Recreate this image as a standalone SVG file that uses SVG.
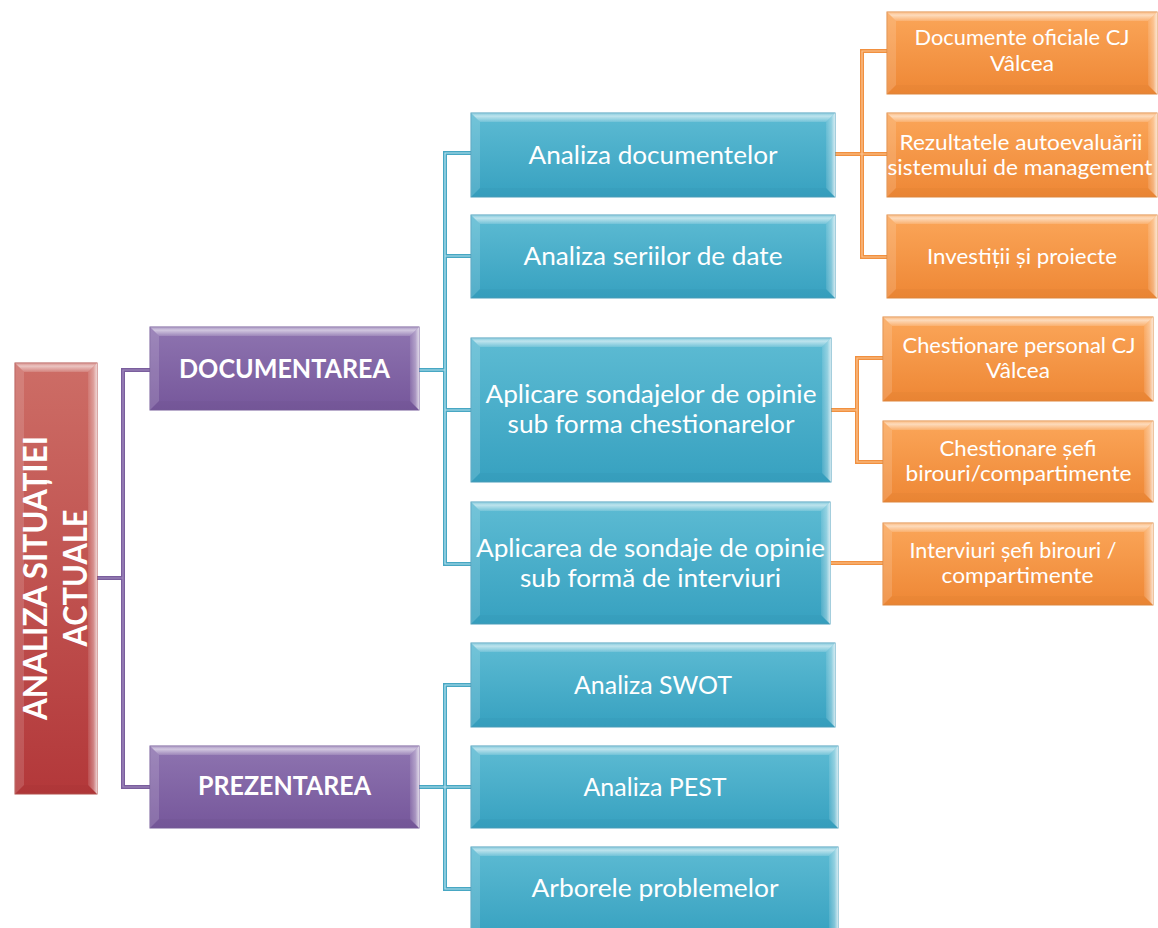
<svg xmlns="http://www.w3.org/2000/svg" width="1158" height="928" viewBox="0 0 1158 928">
<defs>
<linearGradient id="gRed" x1="0" y1="0" x2="0" y2="1"><stop offset="0" stop-color="#cd6d66"/><stop offset="1" stop-color="#b3383a"/></linearGradient>
<linearGradient id="gPurple" x1="0" y1="0" x2="0" y2="1"><stop offset="0" stop-color="#8e74b0"/><stop offset="1" stop-color="#76579b"/></linearGradient>
<linearGradient id="gTeal" x1="0" y1="0" x2="0" y2="1"><stop offset="0" stop-color="#5dbbd3"/><stop offset="1" stop-color="#37a1c0"/></linearGradient>
<linearGradient id="gOrange" x1="0" y1="0" x2="0" y2="1"><stop offset="0" stop-color="#fba659"/><stop offset="1" stop-color="#ee8735"/></linearGradient>
<linearGradient id="gTop" x1="0" y1="0" x2="0" y2="1"><stop offset="0" stop-color="#fff" stop-opacity="0.25"/><stop offset="0.35" stop-color="#fff" stop-opacity="0.6"/><stop offset="1" stop-color="#fff" stop-opacity="0.15"/></linearGradient>
<linearGradient id="gRight" x1="0" y1="0" x2="1" y2="0"><stop offset="0" stop-color="#fff" stop-opacity="0.1"/><stop offset="0.6" stop-color="#fff" stop-opacity="0.35"/><stop offset="1" stop-color="#fff" stop-opacity="0.75"/></linearGradient>
</defs>
<style>
.box{stroke-width:1}
.red .box{fill:url(#gRed);stroke:#b2504c}
.pur .box{fill:url(#gPurple);stroke:#765c99}
.teal .box{fill:url(#gTeal);stroke:#4a9ebb}
.org .box{fill:url(#gOrange);stroke:#e0873e}
.bt{fill:url(#gTop)}
.bl{fill:#fff;fill-opacity:0.14}
.br{fill:url(#gRight)}
.bb{fill:#000;fill-opacity:0.02}
text{font-family:Lato,"Open Sans","Liberation Sans",sans-serif;fill:#fff;text-anchor:middle}
.t28{font-size:25.2px}
.t24{font-size:21.6px}
.b29{font-size:26px;font-weight:700}
.b36{font-size:32.4px;font-weight:700}
.c{fill:none;stroke-linejoin:miter}
.cp{stroke:#7a5e9d;stroke-width:4}
.cpi{stroke:#a28bc0;stroke-width:1.2}
.ct{stroke:#47a7c3;stroke-width:4}
.cti{stroke:#b5e2ee;stroke-width:1.2}
.co{stroke:#f1903f;stroke-width:4}
.coi{stroke:#fbc594;stroke-width:1.2}
</style>

<g id="connectors">
<path class="c cp" d="M150,370H123V787H150M97,578H123"/>
<path class="c cpi" d="M150,370H123V787H150M97,578H123"/>
<path class="c ct" d="M471,153H445V564H471M419,370H445M445,256H471M445,410H471"/>
<path class="c cti" d="M471,153H445V564H471M419,370H445M445,256H471M445,410H471"/>
<path class="c ct" d="M471,685H445V889H471M419,787H471"/>
<path class="c cti" d="M471,685H445V889H471M419,787H471"/>
<path class="c co" d="M887,51H862V257H887M835,154H887"/>
<path class="c coi" d="M887,51H862V257H887M835,154H887"/>
<path class="c co" d="M883,358H857V462H883M831,410H857"/>
<path class="c coi" d="M883,358H857V462H883M831,410H857"/>
<path class="c co" d="M831,563H883"/>
<path class="c coi" d="M831,563H883"/>
</g>

<g id="root" class="red">
<rect class="box" x="15" y="363" width="82" height="431"/>
<polygon class="bt" points="15,363 97,363 88,372 24,372"/>
<polygon class="bl" points="15,363 24,372 24,785 15,794"/>
<polygon class="br" points="97,363 97,794 88,785 88,372"/>
<polygon class="bb" points="15,794 24,785 88,785 97,794"/>
<text class="b36" transform="translate(47,578) rotate(-90)" textLength="284" lengthAdjust="spacingAndGlyphs">ANALIZA SITUAȚIEI</text>
<text class="b36" transform="translate(87,578) rotate(-90)" textLength="137" lengthAdjust="spacingAndGlyphs">ACTUALE</text>
</g>

<g id="documentarea" class="pur">
<rect class="box" x="150" y="327" width="269" height="83"/>
<polygon class="bt" points="150,327 419,327 410,336 159,336"/>
<polygon class="bl" points="150,327 159,336 159,401 150,410"/>
<polygon class="br" points="419,327 419,410 410,401 410,336"/>
<polygon class="bb" points="150,410 159,401 410,401 419,410"/>
<text class="b29" x="284.5" y="377.5" textLength="211" lengthAdjust="spacingAndGlyphs">DOCUMENTAREA</text>
</g>

<g id="prezentarea" class="pur">
<rect class="box" x="150" y="746" width="269" height="82"/>
<polygon class="bt" points="150,746 419,746 410,755 159,755"/>
<polygon class="bl" points="150,746 159,755 159,819 150,828"/>
<polygon class="br" points="419,746 419,828 410,819 410,755"/>
<polygon class="bb" points="150,828 159,819 410,819 419,828"/>
<text class="b29" x="284.5" y="795" textLength="173" lengthAdjust="spacingAndGlyphs">PREZENTAREA</text>
</g>

<g id="analiza-documentelor" class="teal">
<rect class="box" x="471" y="113" width="364" height="84"/>
<polygon class="bt" points="471,113 835,113 826,122 480,122"/>
<polygon class="bl" points="471,113 480,122 480,188 471,197"/>
<polygon class="br" points="835,113 835,197 826,188 826,122"/>
<polygon class="bb" points="471,197 480,188 826,188 835,197"/>
<text class="t28" x="653" y="163.5" textLength="249" lengthAdjust="spacingAndGlyphs">Analiza documentelor</text>
</g>

<g id="analiza-seriilor" class="teal">
<rect class="box" x="471" y="215" width="364" height="83"/>
<polygon class="bt" points="471,215 835,215 826,224 480,224"/>
<polygon class="bl" points="471,215 480,224 480,289 471,298"/>
<polygon class="br" points="835,215 835,298 826,289 826,224"/>
<polygon class="bb" points="471,298 480,289 826,289 835,298"/>
<text class="t28" x="653" y="265" textLength="259" lengthAdjust="spacingAndGlyphs">Analiza seriilor de date</text>
</g>

<g id="aplicare-chestionare" class="teal">
<rect class="box" x="471" y="338" width="360" height="144"/>
<polygon class="bt" points="471,338 831,338 822,347 480,347"/>
<polygon class="bl" points="471,338 480,347 480,473 471,482"/>
<polygon class="br" points="831,338 831,482 822,473 822,347"/>
<polygon class="bb" points="471,482 480,473 822,473 831,482"/>
<text class="t28" x="651" y="403" textLength="331" lengthAdjust="spacingAndGlyphs">Aplicare sondajelor de opinie</text>
<text class="t28" x="651" y="433" textLength="287" lengthAdjust="spacingAndGlyphs">sub forma chestionarelor</text>
</g>

<g id="aplicare-interviuri" class="teal">
<rect class="box" x="471" y="502" width="359" height="122"/>
<polygon class="bt" points="471,502 830,502 821,511 480,511"/>
<polygon class="bl" points="471,502 480,511 480,615 471,624"/>
<polygon class="br" points="830,502 830,624 821,615 821,511"/>
<polygon class="bb" points="471,624 480,615 821,615 830,624"/>
<text class="t28" x="650.5" y="557" textLength="349" lengthAdjust="spacingAndGlyphs">Aplicarea de sondaje de opinie</text>
<text class="t28" x="650.5" y="587" textLength="261" lengthAdjust="spacingAndGlyphs">sub formă de interviuri</text>
</g>

<g id="analiza-swot" class="teal">
<rect class="box" x="471" y="643" width="364" height="84"/>
<polygon class="bt" points="471,643 835,643 826,652 480,652"/>
<polygon class="bl" points="471,643 480,652 480,718 471,727"/>
<polygon class="br" points="835,643 835,727 826,718 826,652"/>
<polygon class="bb" points="471,727 480,718 826,718 835,727"/>
<text class="t28" x="653" y="694" textLength="158" lengthAdjust="spacingAndGlyphs">Analiza SWOT</text>
</g>

<g id="analiza-pest" class="teal">
<rect class="box" x="471" y="746" width="367" height="82"/>
<polygon class="bt" points="471,746 838,746 829,755 480,755"/>
<polygon class="bl" points="471,746 480,755 480,819 471,828"/>
<polygon class="br" points="838,746 838,828 829,819 829,755"/>
<polygon class="bb" points="471,828 480,819 829,819 838,828"/>
<text class="t28" x="655" y="795.5" textLength="143" lengthAdjust="spacingAndGlyphs">Analiza PEST</text>
</g>

<g id="arborele-problemelor" class="teal">
<rect class="box" x="471" y="847" width="367" height="90"/>
<polygon class="bt" points="471,847 838,847 829,856 480,856"/>
<polygon class="bl" points="471,847 480,856 480,928 471,937"/>
<polygon class="br" points="838,847 838,937 829,928 829,856"/>
<text class="t28" x="655" y="897" textLength="247" lengthAdjust="spacingAndGlyphs">Arborele problemelor</text>
</g>

<g id="documente-oficiale" class="org">
<rect class="box" x="887" y="12" width="270" height="82"/>
<polygon class="bt" points="887,12 1157,12 1148,21 896,21"/>
<polygon class="bl" points="887,12 896,21 896,85 887,94"/>
<polygon class="br" points="1157,12 1157,94 1148,85 1148,21"/>
<polygon class="bb" points="887,94 896,85 1148,85 1157,94"/>
<text class="t24" x="1022" y="45" textLength="215" lengthAdjust="spacingAndGlyphs">Documente oficiale CJ</text>
<text class="t24" x="1022" y="71" textLength="64" lengthAdjust="spacingAndGlyphs">Vâlcea</text>
</g>

<g id="rezultatele" class="org">
<rect class="box" x="887" y="113" width="270" height="84"/>
<polygon class="bt" points="887,113 1157,113 1148,122 896,122"/>
<polygon class="bl" points="887,113 896,122 896,188 887,197"/>
<polygon class="br" points="1157,113 1157,197 1148,188 1148,122"/>
<polygon class="bb" points="887,197 896,188 1148,188 1157,197"/>
<text class="t24" x="1021" y="150" textLength="243" lengthAdjust="spacingAndGlyphs">Rezultatele autoevaluării</text>
<text class="t24" x="1020" y="175" textLength="265" lengthAdjust="spacingAndGlyphs">sistemului de management</text>
</g>

<g id="investitii" class="org">
<rect class="box" x="887" y="215" width="270" height="83"/>
<polygon class="bt" points="887,215 1157,215 1148,224 896,224"/>
<polygon class="bl" points="887,215 896,224 896,289 887,298"/>
<polygon class="br" points="1157,215 1157,298 1148,289 1148,224"/>
<polygon class="bb" points="887,298 896,289 1148,289 1157,298"/>
<text class="t24" x="1022" y="264" textLength="190" lengthAdjust="spacingAndGlyphs">Investiții și proiecte</text>
</g>

<g id="chestionare-personal" class="org">
<rect class="box" x="883" y="317" width="270" height="84"/>
<polygon class="bt" points="883,317 1153,317 1144,326 892,326"/>
<polygon class="bl" points="883,317 892,326 892,392 883,401"/>
<polygon class="br" points="1153,317 1153,401 1144,392 1144,326"/>
<polygon class="bb" points="883,401 892,392 1144,392 1153,401"/>
<text class="t24" x="1019" y="353" textLength="233" lengthAdjust="spacingAndGlyphs">Chestionare personal CJ</text>
<text class="t24" x="1018" y="378" textLength="64" lengthAdjust="spacingAndGlyphs">Vâlcea</text>
</g>

<g id="chestionare-sefi" class="org">
<rect class="box" x="883" y="421" width="270" height="81"/>
<polygon class="bt" points="883,421 1153,421 1144,430 892,430"/>
<polygon class="bl" points="883,421 892,430 892,493 883,502"/>
<polygon class="br" points="1153,421 1153,502 1144,493 1144,430"/>
<polygon class="bb" points="883,502 892,493 1144,493 1153,502"/>
<text class="t24" x="1018" y="455.5" textLength="157" lengthAdjust="spacingAndGlyphs">Chestionare șefi</text>
<text class="t24" x="1018.5" y="480.5" textLength="226" lengthAdjust="spacingAndGlyphs">birouri/compartimente</text>
</g>

<g id="interviuri" class="org">
<rect class="box" x="883" y="523" width="270" height="82"/>
<polygon class="bt" points="883,523 1153,523 1144,532 892,532"/>
<polygon class="bl" points="883,523 892,532 892,596 883,605"/>
<polygon class="br" points="1153,523 1153,605 1144,596 1144,532"/>
<polygon class="bb" points="883,605 892,596 1144,596 1153,605"/>
<text class="t24" x="1013" y="557.5" textLength="207" lengthAdjust="spacingAndGlyphs">Interviuri șefi birouri /</text>
<text class="t24" x="1017.5" y="582.5" textLength="152" lengthAdjust="spacingAndGlyphs">compartimente</text>
</g>
</svg>
